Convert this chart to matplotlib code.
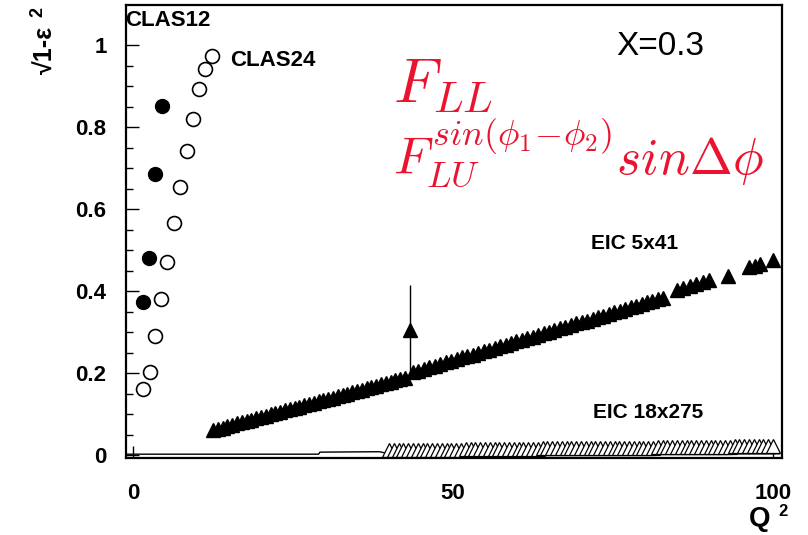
import numpy as np
import matplotlib.pyplot as plt

plt.rcParams['font.family'] = ['Liberation Sans', 'DejaVu Sans']
plt.rcParams['mathtext.fontset'] = 'cm'

# CLAS12 (filled circles)
clas12_q2 = [1.6, 2.5, 3.4, 4.5]
clas12_y = [0.373, 0.480, 0.685, 0.851]

# CLAS24 (open circles)
clas24_q2 = [1.6, 2.7, 3.4, 4.4, 5.3, 6.4, 7.3, 8.4, 9.4, 10.3, 11.3, 12.3]
clas24_y = [0.161, 0.202, 0.290, 0.380, 0.471, 0.566, 0.654, 0.741, 0.820, 0.893, 0.941, 0.973]

# EIC 5x41 (filled triangles)
eic5_q2 = [12.5, 13.25, 14.0, 14.75, 15.5, 16.25, 17.0, 17.75, 18.5, 19.25, 20.0,
           20.75, 21.5, 22.25, 23.0, 23.75, 24.5, 25.25, 26.0, 26.75, 27.5, 28.25,
           29.0, 29.75, 30.5, 31.25, 32.0, 32.75, 33.5, 34.25, 35.0, 35.75, 36.5,
           37.25, 38.0, 38.75, 39.5, 40.25, 41.0, 41.75, 42.5,
           43.75, 44.6, 45.45, 46.3, 47.15, 48.0, 48.85, 49.7, 50.55, 51.4, 52.25,
           53.1, 53.95, 54.8, 55.65, 56.5, 57.35, 58.2, 59.05, 59.9, 60.75, 61.6,
           62.45, 63.3, 64.15, 65.0, 65.85, 66.7, 67.55, 68.4, 69.25, 70.1, 70.95,
           71.8, 72.65, 73.5, 74.35, 75.2, 76.05, 76.9, 77.75, 78.6, 79.45, 80.3,
           81.15, 82.0, 82.85,
           85.0, 86.0, 87.0, 88.0, 89.0, 90.0, 93.0, 96.2, 97.2, 98.0, 100.0]
eic5_y = [0.061, 0.064, 0.067, 0.071, 0.074, 0.077, 0.080, 0.083, 0.086, 0.090, 0.093,
          0.096, 0.099, 0.102, 0.105, 0.109, 0.112, 0.115, 0.118, 0.121, 0.125, 0.128,
          0.131, 0.134, 0.137, 0.140, 0.144, 0.147, 0.150, 0.153, 0.156, 0.159, 0.163,
          0.166, 0.169, 0.172, 0.175, 0.178, 0.182, 0.185, 0.188,
          0.202, 0.206, 0.210, 0.214, 0.218, 0.222, 0.226, 0.230, 0.234, 0.238, 0.242,
          0.245, 0.249, 0.253, 0.257, 0.261, 0.265, 0.269, 0.273, 0.277, 0.281, 0.285,
          0.289, 0.293, 0.297, 0.301, 0.305, 0.309, 0.313, 0.317, 0.321, 0.324, 0.328,
          0.332, 0.336, 0.340, 0.344, 0.348, 0.352, 0.356, 0.360, 0.364, 0.368, 0.372,
          0.376, 0.380, 0.384,
          0.402, 0.407, 0.412, 0.417, 0.422, 0.427, 0.437, 0.458, 0.462, 0.466, 0.476]

# outlier with error bar
out_q2, out_y, out_err = 43.3, 0.305, 0.11

# EIC 18x275 (open triangles)
eic18_q2 = [40.0, 40.75, 41.5, 42.25, 43.0, 43.75, 44.5, 45.25, 46.0, 46.75, 47.5,
            48.25, 49.0, 49.75, 50.5, 51.25, 52.0, 52.75, 53.5, 54.25, 55.0, 55.75,
            56.5, 57.25, 58.0, 58.75, 59.5, 60.25, 61.0, 61.75, 62.5, 63.25, 64.0,
            64.75, 65.5, 66.25, 67.0, 67.75, 68.5, 69.25, 70.0, 70.75, 71.5, 72.25,
            73.0, 73.75, 74.5, 75.25, 76.0, 76.75, 77.5, 78.25, 79.0, 79.75, 80.5,
            81.25, 82.0, 82.75, 83.5, 84.25, 85.0, 85.75, 86.5, 87.25, 88.0, 88.75,
            89.5, 90.25, 91.0, 91.75, 92.5, 93.25, 94.0, 94.75, 95.5, 96.25, 97.0,
            97.75, 98.5, 99.25, 100.0]
eic18_y = [0.012] * 8 + [0.013] * 8 + [0.014] * 8 + [0.015] * 8 + [0.016] * 8 + \
          [0.017] * 8 + [0.018] * 8 + [0.019] * 8 + [0.020] * 8 + [0.021] * 9

# thin low curve near zero
low_q2 = [-1.0, 29.0, 29.2, 38.5, 40.0, 101.0]
low_y = [0.002, 0.002, 0.007, 0.008, 0.003, 0.003]

W, H = 808, 535
fig = plt.figure(figsize=(W / 100, H / 100), dpi=100)
ax = fig.add_axes([126 / W, 1 - 458 / H, (782 - 126) / W, (458 - 5) / H])

ax.plot(low_q2, low_y, color='black', lw=1.0)
ax.plot(eic18_q2, eic18_y, '^', ms=10.5, mfc='white', mec='black', mew=0.9, ls='none')
ax.plot(eic5_q2, eic5_y, '^', ms=10, color='black', ls='none')
ax.errorbar(out_q2, out_y, yerr=out_err, fmt='^', ms=10, color='black',
            elinewidth=1.0, capsize=0)
ax.plot(clas24_q2, clas24_y, 'o', ms=10, mfc='white', mec='black', mew=1.2, ls='none')
ax.plot(clas12_q2, clas12_y, 'o', ms=10, color='black', ls='none')

ax.set_xlim(-1.1, 101.4)
ax.set_ylim(-0.0073, 1.0976)
ax.set_xticks([0, 50, 100])
ax.set_yticks([0, 0.2, 0.4, 0.6, 0.8, 1.0])
ax.set_yticklabels(['0', '0.2', '0.4', '0.6', '0.8', '1'])
ax.set_yticks(np.arange(0, 1.05, 0.05), minor=True)
ax.tick_params(axis='both', which='major', direction='in', length=9, width=1.0,
               labelsize=16, pad=14)
ax.tick_params(axis='x', which='major', pad=18)
ax.tick_params(axis='y', which='minor', direction='in', length=5, width=1.0)
for lab in ax.get_xticklabels() + ax.get_yticklabels():
    lab.set_fontweight('bold')
for sp in ax.spines.values():
    sp.set_linewidth(1.6)


def px(x, y):
    return x / W, 1 - y / H


red = '#ea1430'
fig.text(*px(168, 20), 'CLAS12', fontsize=16, fontweight='bold', ha='center', va='center')
fig.text(*px(273, 60), 'CLAS24', fontsize=16, fontweight='bold', ha='center', va='center')
fig.text(*px(635, 244), 'EIC 5x41', fontsize=15, fontweight='bold', ha='center', va='center')
fig.text(*px(648, 412), 'EIC 18x275', fontsize=15, fontweight='bold', ha='center', va='center')
fig.text(*px(660, 47), 'X=0.3', fontsize=24, ha='center', va='center')
fig.text(*px(393, 102), r'$F_{LL}$', fontsize=45, color=red, ha='left', va='baseline')
fig.text(*px(393, 174), r'$F_{LU}^{sin(\phi_1\!-\!\phi_2)}sin\Delta\phi$', fontsize=37,
         color=red, ha='left', va='baseline')
fig.text(*px(760, 519), 'Q', fontsize=20, fontweight='bold', ha='center', va='center')
fig.text(*px(783, 512), '2', fontsize=12, fontweight='bold', ha='center', va='center')
fig.text(*px(46, 50), '√1-ε', fontsize=18, fontweight='bold',
         rotation=90, ha='center', va='center')
fig.text(*px(38, 12), '2', fontsize=13, fontweight='bold',
         rotation=90, ha='center', va='center')

fig.savefig('out.png', dpi=100)
